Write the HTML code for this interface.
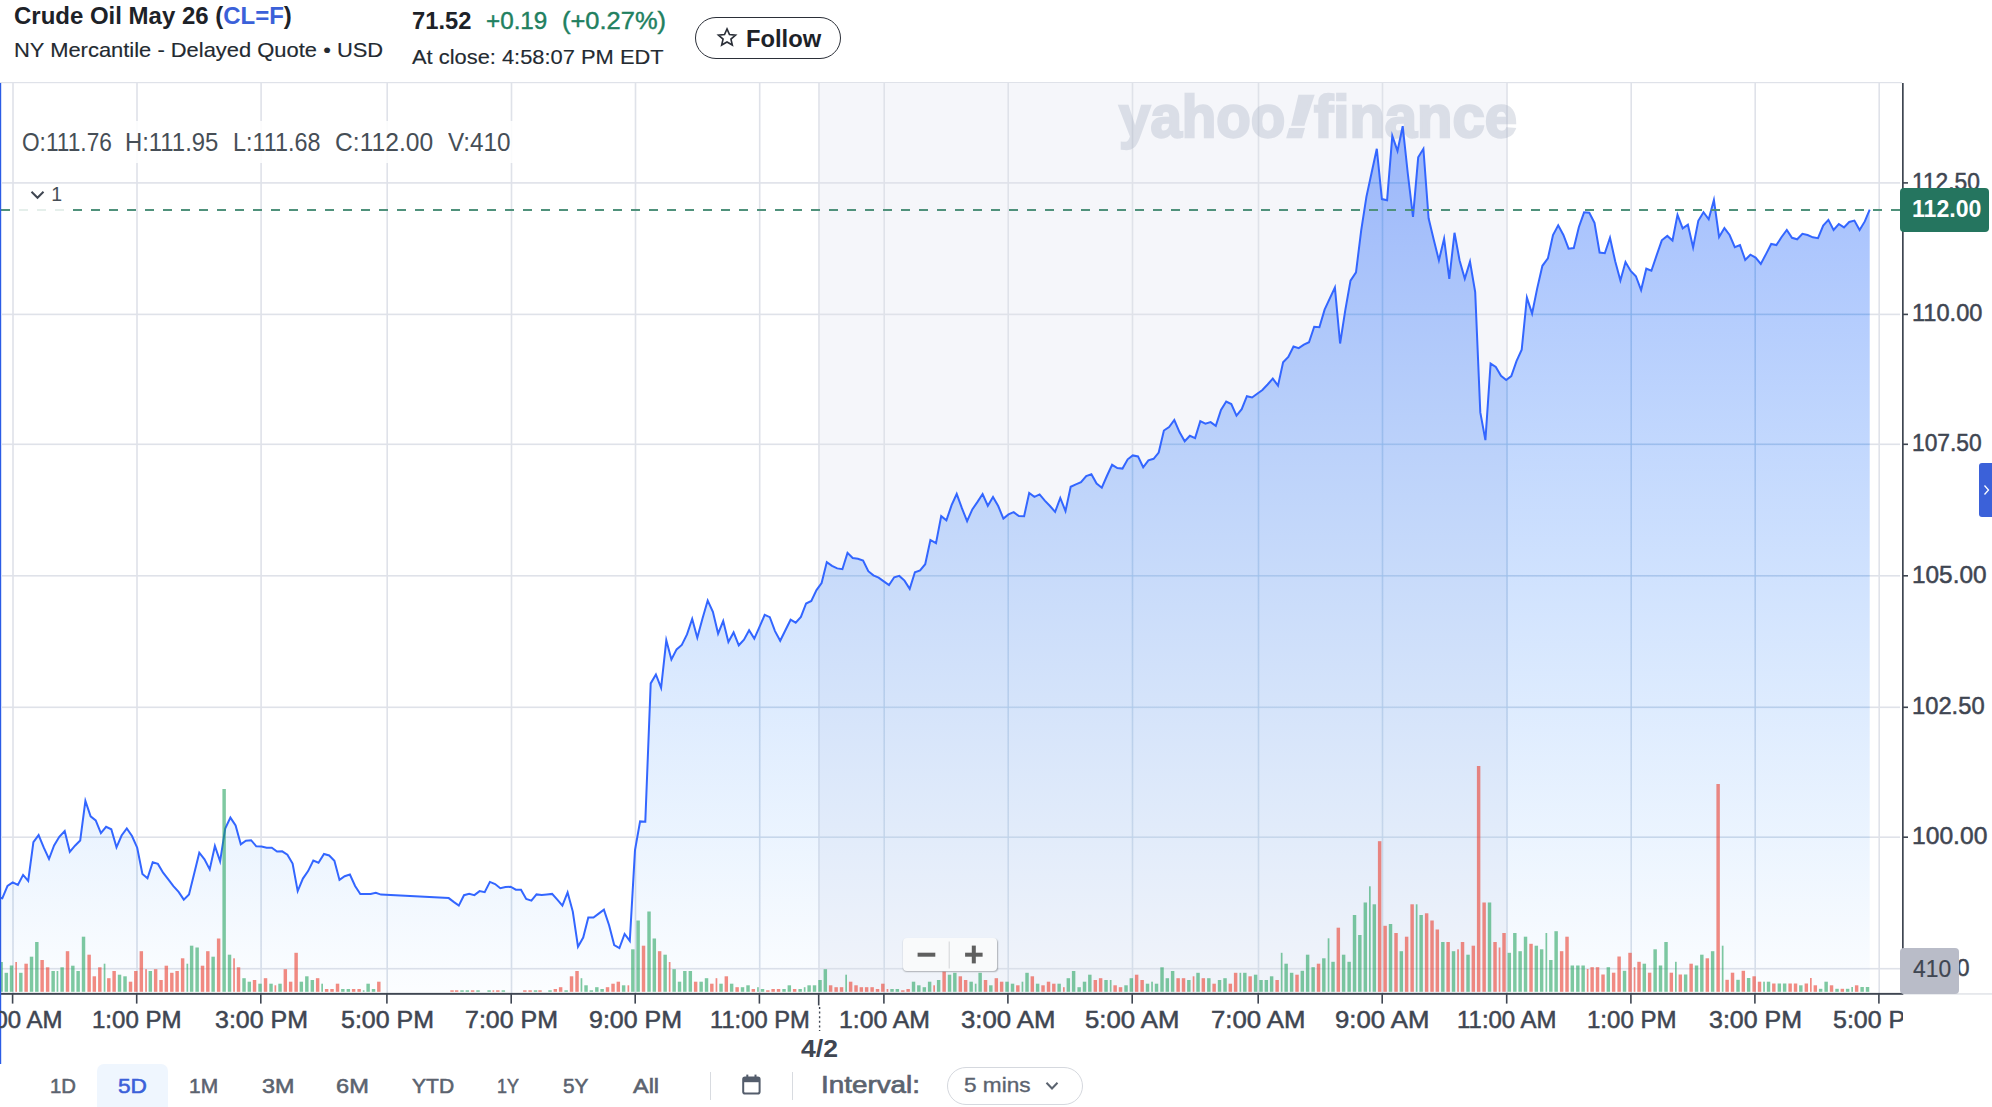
<!DOCTYPE html>
<html><head><meta charset="utf-8"><title>Crude Oil May 26 (CL=F)</title>
<style>
html,body{margin:0;padding:0;background:#fff;}
body{width:1992px;height:1107px;overflow:hidden;position:relative;font-family:"Liberation Sans",sans-serif;color:#232a31;}
.abs{position:absolute;white-space:pre;line-height:1;}
.chart{position:absolute;left:0;top:0;}
.xclip{position:absolute;left:0;top:1004px;width:1902.5px;height:36px;overflow:hidden;}
.follow{left:695px;top:17px;width:144px;height:40px;border:1.2px solid #2b2f38;border-radius:22px;}
.ohlc{left:17px;top:121px;height:42px;width:498px;background:rgba(255,255,255,0.85);}
.one{left:15px;top:184px;width:52px;height:29px;background:rgba(255,255,255,0.85);}
.cur{left:1900px;top:187.5px;width:88.8px;height:44.8px;background:#25755f;border-radius:4px;}
.vol{left:1900px;top:948px;width:59px;height:45.5px;background:#b9bcc8;border-radius:4px;}
.tab{left:1978.5px;top:462.5px;width:14px;height:54px;background:#3b61d9;border-radius:3px 0 0 3px;}
.zoom{left:903px;top:937.5px;width:94px;height:33.5px;background:#f9fafb;border-radius:4px;box-shadow:0.5px 1px 1.5px rgba(0,0,0,0.28);}
.sel{left:97px;top:1064px;width:71px;height:50px;background:#eff6fe;border-radius:7px;}
</style></head><body>
<svg class="chart" width="1992" height="1107" viewBox="0 0 1992 1107">
<rect x="0" y="82" width="1902" height="1.2" fill="#dfe2e9"/>
<rect x="819.6" y="83" width="687" height="910" fill="#f5f6fa"/>
<rect x="12.2" y="83" width="1.6" height="910" fill="#dfe2e9"/>
<rect x="136.2" y="83" width="1.6" height="910" fill="#dfe2e9"/>
<rect x="260.3" y="83" width="1.6" height="910" fill="#dfe2e9"/>
<rect x="386.4" y="83" width="1.6" height="910" fill="#dfe2e9"/>
<rect x="510.7" y="83" width="1.6" height="910" fill="#dfe2e9"/>
<rect x="634.7" y="83" width="1.6" height="910" fill="#dfe2e9"/>
<rect x="758.9" y="83" width="1.6" height="910" fill="#dfe2e9"/>
<rect x="883.4" y="83" width="1.6" height="910" fill="#dfe2e9"/>
<rect x="1007.4" y="83" width="1.6" height="910" fill="#dfe2e9"/>
<rect x="1131.7" y="83" width="1.6" height="910" fill="#dfe2e9"/>
<rect x="1257.7" y="83" width="1.6" height="910" fill="#dfe2e9"/>
<rect x="1381.7" y="83" width="1.6" height="910" fill="#dfe2e9"/>
<rect x="1506.2" y="83" width="1.6" height="910" fill="#dfe2e9"/>
<rect x="1630.4" y="83" width="1.6" height="910" fill="#dfe2e9"/>
<rect x="1754.4" y="83" width="1.6" height="910" fill="#dfe2e9"/>
<rect x="1878.4" y="83" width="1.6" height="910" fill="#dfe2e9"/>
<rect x="818.2" y="83" width="1.6" height="910" fill="#dfe2e9"/>
<rect x="2" y="182.1" width="1898" height="1.6" fill="#dfe2e9"/>
<rect x="2" y="313.6" width="1898" height="1.6" fill="#dfe2e9"/>
<rect x="2" y="443.5" width="1898" height="1.6" fill="#dfe2e9"/>
<rect x="2" y="575.0" width="1898" height="1.6" fill="#dfe2e9"/>
<rect x="2" y="706.5" width="1898" height="1.6" fill="#dfe2e9"/>
<rect x="2" y="836.4" width="1898" height="1.6" fill="#dfe2e9"/>
<rect x="2" y="967.9" width="1898" height="1.6" fill="#dfe2e9"/>
</svg>
<div class="abs" style="left:0;top:0;width:1902px;height:200px;opacity:0.31">
<div class="abs" style="left:1118.96px;top:87.76px;font-size:59px;font-weight:700;color:#a0aabe;transform:scaleX(0.9569);transform-origin:0 0;-webkit-text-stroke:2.4px #a0aabe;">yahoo</div>
<div class="abs" style="left:1284.53px;top:87.76px;font-size:59px;font-weight:700;color:#a0aabe;transform:scaleX(1.4737);transform-origin:0 0;-webkit-text-stroke:2.4px #a0aabe;font-style:italic;">!</div>
<div class="abs" style="left:1314.00px;top:87.76px;font-size:59px;font-weight:700;color:#a0aabe;transform:scaleX(0.9825);transform-origin:0 0;-webkit-text-stroke:2.4px #a0aabe;">finance</div>
</div>
<svg class="chart" width="1992" height="1107" viewBox="0 0 1992 1107">
<defs><linearGradient id="fg" gradientUnits="userSpaceOnUse" x1="0" y1="83" x2="0" y2="993"><stop offset="0" stop-color="rgb(35,95,250)" stop-opacity="0.45"/><stop offset="1" stop-color="rgb(35,140,250)" stop-opacity="0.015"/></linearGradient><linearGradient id="tg" gradientUnits="userSpaceOnUse" x1="0" y1="83" x2="0" y2="993"><stop offset="0" stop-color="rgb(40,150,235)" stop-opacity="0.17"/><stop offset="1" stop-color="rgb(40,150,235)" stop-opacity="0.02"/></linearGradient></defs>
<path d="M0.0 897.8 L2.3 898.3 L7.5 885.8 L12.7 882.3 L17.9 884.9 L23.1 874.9 L28.2 880.8 L33.4 842.2 L38.6 835.1 L43.8 847.7 L49.0 859.0 L54.1 845.5 L59.3 836.8 L64.7 831.0 L69.8 851.8 L75.0 845.7 L80.2 840.5 L85.4 800.9 L90.6 816.4 L95.7 820.4 L100.9 833.1 L106.1 826.8 L111.3 829.3 L116.5 847.3 L121.6 835.5 L126.8 828.5 L132.0 836.0 L137.2 847.7 L142.4 873.9 L147.5 878.2 L152.7 862.2 L157.9 863.9 L163.1 872.7 L168.3 879.4 L173.4 886.1 L178.6 891.9 L183.8 899.6 L189.0 894.5 L194.2 873.6 L199.3 852.7 L204.5 859.4 L209.7 869.4 L214.9 846.0 L220.1 861.4 L225.2 828.5 L230.4 817.6 L235.6 825.4 L240.8 844.3 L245.9 840.7 L251.1 840.2 L256.3 846.3 L261.5 846.5 L266.7 847.7 L271.8 847.8 L277.0 851.5 L282.2 851.3 L287.4 854.7 L292.6 863.5 L297.7 891.1 L302.9 878.6 L308.1 871.1 L313.3 860.5 L318.5 862.7 L324.0 854.0 L329.2 855.5 L334.4 860.7 L339.5 879.9 L344.7 876.2 L349.9 874.5 L355.1 886.0 L360.3 894.1 L365.4 894.1 L370.6 893.9 L375.8 892.7 L381.0 894.6 L448.7 898.1 L453.7 901.9 L458.8 905.6 L464.0 895.2 L469.2 893.9 L474.4 895.1 L479.6 891.1 L484.7 892.2 L489.9 881.9 L495.1 884.0 L500.3 888.2 L505.5 887.1 L510.6 886.7 L515.8 889.7 L521.0 889.7 L526.2 898.9 L531.4 900.6 L536.5 894.4 L541.7 894.9 L546.9 894.4 L552.1 893.9 L557.3 899.7 L562.4 905.6 L567.6 892.4 L572.8 911.6 L578.0 946.7 L583.2 937.5 L588.3 917.5 L593.5 917.5 L598.7 913.6 L603.9 909.6 L609.1 925.3 L614.2 945.0 L619.4 948.0 L624.6 934.0 L629.8 940.9 L635.0 850.1 L640.1 821.4 L645.3 821.7 L650.7 683.4 L655.9 674.5 L661.1 687.9 L666.3 640.3 L671.4 659.5 L676.6 649.4 L681.8 644.9 L687.0 634.4 L692.2 619.0 L697.3 637.7 L702.5 618.5 L707.7 600.5 L712.9 611.8 L718.1 633.6 L723.2 621.0 L728.4 641.9 L733.6 632.4 L738.8 645.3 L744.0 639.7 L749.1 630.2 L754.3 638.6 L759.5 626.9 L764.7 614.9 L769.8 617.2 L775.0 631.1 L780.2 640.8 L785.4 630.2 L790.6 619.7 L795.7 622.7 L800.9 616.9 L806.1 603.5 L811.3 601.0 L816.5 590.1 L821.6 583.1 L826.8 562.1 L832.0 565.9 L837.2 568.4 L842.4 569.2 L847.5 552.9 L852.7 558.0 L857.9 558.7 L863.1 560.6 L868.3 571.2 L873.4 575.3 L878.6 577.6 L883.8 581.4 L889.0 585.1 L894.2 577.3 L899.3 575.9 L904.5 580.6 L909.7 588.8 L914.9 572.2 L920.1 570.4 L925.2 564.2 L930.4 540.0 L936.0 543.1 L941.2 516.1 L946.4 520.3 L951.6 505.2 L956.7 494.0 L961.9 508.2 L967.1 521.1 L972.3 509.4 L977.5 501.9 L982.6 494.0 L987.8 505.7 L993.0 496.9 L998.2 506.0 L1003.4 518.6 L1008.5 514.4 L1013.7 512.2 L1018.9 516.1 L1024.1 516.2 L1029.2 493.0 L1034.4 496.9 L1039.6 494.4 L1044.8 500.7 L1050.0 506.0 L1055.1 511.9 L1060.3 498.0 L1065.5 511.1 L1070.7 486.8 L1075.9 484.3 L1081.0 482.2 L1086.2 476.0 L1091.4 474.3 L1096.6 483.5 L1101.8 487.7 L1106.9 476.0 L1112.1 464.8 L1117.3 468.0 L1122.5 468.6 L1127.7 459.3 L1132.8 455.4 L1138.0 456.4 L1143.2 467.3 L1148.4 460.4 L1153.6 458.8 L1158.7 452.6 L1163.9 430.5 L1169.1 427.0 L1174.3 420.0 L1179.5 432.1 L1184.7 441.3 L1189.9 435.8 L1195.1 438.1 L1200.3 421.2 L1205.4 423.7 L1210.6 422.1 L1215.8 425.9 L1221.0 409.9 L1226.2 401.5 L1231.3 404.0 L1236.5 415.7 L1241.7 409.2 L1246.9 396.2 L1252.1 397.5 L1257.2 393.7 L1262.4 390.0 L1267.6 384.5 L1272.8 378.6 L1278.0 385.6 L1283.1 362.3 L1288.3 356.9 L1293.5 346.5 L1298.7 348.1 L1303.9 344.7 L1309.0 342.2 L1314.2 326.8 L1319.4 327.2 L1324.6 309.6 L1329.8 298.4 L1334.9 287.6 L1340.1 343.5 L1345.3 310.1 L1350.5 280.6 L1356.0 272.4 L1361.2 230.3 L1366.4 196.9 L1371.6 172.7 L1376.8 148.8 L1381.9 199.1 L1387.1 200.2 L1392.3 135.9 L1397.5 150.9 L1402.7 126.2 L1407.8 173.5 L1413.0 216.9 L1418.2 157.3 L1423.4 148.8 L1428.6 218.3 L1433.7 239.5 L1438.9 260.4 L1444.1 238.7 L1449.3 278.8 L1454.5 232.8 L1459.6 260.4 L1464.8 278.8 L1470.0 261.7 L1475.2 292.1 L1480.3 412.4 L1485.4 440.1 L1490.6 363.6 L1495.8 366.9 L1501.0 375.8 L1506.2 380.0 L1511.3 376.1 L1516.5 361.1 L1521.7 349.7 L1526.9 297.6 L1532.1 313.5 L1537.2 288.4 L1542.4 265.8 L1547.9 258.4 L1553.0 235.0 L1558.2 225.3 L1563.4 235.0 L1568.6 248.7 L1573.8 248.0 L1578.9 227.0 L1584.1 212.3 L1589.3 212.8 L1594.5 222.8 L1599.6 252.5 L1604.8 253.2 L1610.0 237.8 L1615.2 261.2 L1620.4 280.4 L1625.5 262.0 L1630.7 270.9 L1635.9 276.2 L1641.1 290.1 L1646.3 268.7 L1651.4 270.7 L1656.6 255.4 L1661.8 240.3 L1667.3 235.9 L1672.5 240.5 L1677.5 214.8 L1682.7 228.4 L1687.9 224.7 L1693.1 247.4 L1698.3 220.8 L1703.5 212.2 L1708.7 219.3 L1713.9 200.0 L1719.1 237.0 L1724.4 228.1 L1729.6 235.0 L1734.8 247.2 L1740.0 245.1 L1745.2 259.9 L1750.4 254.7 L1755.6 257.6 L1760.8 263.9 L1766.0 254.1 L1771.2 244.0 L1776.4 245.1 L1781.6 237.0 L1786.8 229.9 L1792.0 237.8 L1797.2 239.3 L1802.4 233.8 L1807.6 235.0 L1812.8 237.3 L1818.0 238.2 L1823.2 225.5 L1828.4 219.9 L1833.6 229.9 L1838.8 224.0 L1844.0 227.4 L1849.2 222.0 L1854.4 220.6 L1859.6 230.1 L1864.8 221.4 L1869.7 209.6 L1869.7 993 L0 993 Z" fill="url(#fg)"/>
<clipPath id="fc"><path d="M0.0 897.8 L2.3 898.3 L7.5 885.8 L12.7 882.3 L17.9 884.9 L23.1 874.9 L28.2 880.8 L33.4 842.2 L38.6 835.1 L43.8 847.7 L49.0 859.0 L54.1 845.5 L59.3 836.8 L64.7 831.0 L69.8 851.8 L75.0 845.7 L80.2 840.5 L85.4 800.9 L90.6 816.4 L95.7 820.4 L100.9 833.1 L106.1 826.8 L111.3 829.3 L116.5 847.3 L121.6 835.5 L126.8 828.5 L132.0 836.0 L137.2 847.7 L142.4 873.9 L147.5 878.2 L152.7 862.2 L157.9 863.9 L163.1 872.7 L168.3 879.4 L173.4 886.1 L178.6 891.9 L183.8 899.6 L189.0 894.5 L194.2 873.6 L199.3 852.7 L204.5 859.4 L209.7 869.4 L214.9 846.0 L220.1 861.4 L225.2 828.5 L230.4 817.6 L235.6 825.4 L240.8 844.3 L245.9 840.7 L251.1 840.2 L256.3 846.3 L261.5 846.5 L266.7 847.7 L271.8 847.8 L277.0 851.5 L282.2 851.3 L287.4 854.7 L292.6 863.5 L297.7 891.1 L302.9 878.6 L308.1 871.1 L313.3 860.5 L318.5 862.7 L324.0 854.0 L329.2 855.5 L334.4 860.7 L339.5 879.9 L344.7 876.2 L349.9 874.5 L355.1 886.0 L360.3 894.1 L365.4 894.1 L370.6 893.9 L375.8 892.7 L381.0 894.6 L448.7 898.1 L453.7 901.9 L458.8 905.6 L464.0 895.2 L469.2 893.9 L474.4 895.1 L479.6 891.1 L484.7 892.2 L489.9 881.9 L495.1 884.0 L500.3 888.2 L505.5 887.1 L510.6 886.7 L515.8 889.7 L521.0 889.7 L526.2 898.9 L531.4 900.6 L536.5 894.4 L541.7 894.9 L546.9 894.4 L552.1 893.9 L557.3 899.7 L562.4 905.6 L567.6 892.4 L572.8 911.6 L578.0 946.7 L583.2 937.5 L588.3 917.5 L593.5 917.5 L598.7 913.6 L603.9 909.6 L609.1 925.3 L614.2 945.0 L619.4 948.0 L624.6 934.0 L629.8 940.9 L635.0 850.1 L640.1 821.4 L645.3 821.7 L650.7 683.4 L655.9 674.5 L661.1 687.9 L666.3 640.3 L671.4 659.5 L676.6 649.4 L681.8 644.9 L687.0 634.4 L692.2 619.0 L697.3 637.7 L702.5 618.5 L707.7 600.5 L712.9 611.8 L718.1 633.6 L723.2 621.0 L728.4 641.9 L733.6 632.4 L738.8 645.3 L744.0 639.7 L749.1 630.2 L754.3 638.6 L759.5 626.9 L764.7 614.9 L769.8 617.2 L775.0 631.1 L780.2 640.8 L785.4 630.2 L790.6 619.7 L795.7 622.7 L800.9 616.9 L806.1 603.5 L811.3 601.0 L816.5 590.1 L821.6 583.1 L826.8 562.1 L832.0 565.9 L837.2 568.4 L842.4 569.2 L847.5 552.9 L852.7 558.0 L857.9 558.7 L863.1 560.6 L868.3 571.2 L873.4 575.3 L878.6 577.6 L883.8 581.4 L889.0 585.1 L894.2 577.3 L899.3 575.9 L904.5 580.6 L909.7 588.8 L914.9 572.2 L920.1 570.4 L925.2 564.2 L930.4 540.0 L936.0 543.1 L941.2 516.1 L946.4 520.3 L951.6 505.2 L956.7 494.0 L961.9 508.2 L967.1 521.1 L972.3 509.4 L977.5 501.9 L982.6 494.0 L987.8 505.7 L993.0 496.9 L998.2 506.0 L1003.4 518.6 L1008.5 514.4 L1013.7 512.2 L1018.9 516.1 L1024.1 516.2 L1029.2 493.0 L1034.4 496.9 L1039.6 494.4 L1044.8 500.7 L1050.0 506.0 L1055.1 511.9 L1060.3 498.0 L1065.5 511.1 L1070.7 486.8 L1075.9 484.3 L1081.0 482.2 L1086.2 476.0 L1091.4 474.3 L1096.6 483.5 L1101.8 487.7 L1106.9 476.0 L1112.1 464.8 L1117.3 468.0 L1122.5 468.6 L1127.7 459.3 L1132.8 455.4 L1138.0 456.4 L1143.2 467.3 L1148.4 460.4 L1153.6 458.8 L1158.7 452.6 L1163.9 430.5 L1169.1 427.0 L1174.3 420.0 L1179.5 432.1 L1184.7 441.3 L1189.9 435.8 L1195.1 438.1 L1200.3 421.2 L1205.4 423.7 L1210.6 422.1 L1215.8 425.9 L1221.0 409.9 L1226.2 401.5 L1231.3 404.0 L1236.5 415.7 L1241.7 409.2 L1246.9 396.2 L1252.1 397.5 L1257.2 393.7 L1262.4 390.0 L1267.6 384.5 L1272.8 378.6 L1278.0 385.6 L1283.1 362.3 L1288.3 356.9 L1293.5 346.5 L1298.7 348.1 L1303.9 344.7 L1309.0 342.2 L1314.2 326.8 L1319.4 327.2 L1324.6 309.6 L1329.8 298.4 L1334.9 287.6 L1340.1 343.5 L1345.3 310.1 L1350.5 280.6 L1356.0 272.4 L1361.2 230.3 L1366.4 196.9 L1371.6 172.7 L1376.8 148.8 L1381.9 199.1 L1387.1 200.2 L1392.3 135.9 L1397.5 150.9 L1402.7 126.2 L1407.8 173.5 L1413.0 216.9 L1418.2 157.3 L1423.4 148.8 L1428.6 218.3 L1433.7 239.5 L1438.9 260.4 L1444.1 238.7 L1449.3 278.8 L1454.5 232.8 L1459.6 260.4 L1464.8 278.8 L1470.0 261.7 L1475.2 292.1 L1480.3 412.4 L1485.4 440.1 L1490.6 363.6 L1495.8 366.9 L1501.0 375.8 L1506.2 380.0 L1511.3 376.1 L1516.5 361.1 L1521.7 349.7 L1526.9 297.6 L1532.1 313.5 L1537.2 288.4 L1542.4 265.8 L1547.9 258.4 L1553.0 235.0 L1558.2 225.3 L1563.4 235.0 L1568.6 248.7 L1573.8 248.0 L1578.9 227.0 L1584.1 212.3 L1589.3 212.8 L1594.5 222.8 L1599.6 252.5 L1604.8 253.2 L1610.0 237.8 L1615.2 261.2 L1620.4 280.4 L1625.5 262.0 L1630.7 270.9 L1635.9 276.2 L1641.1 290.1 L1646.3 268.7 L1651.4 270.7 L1656.6 255.4 L1661.8 240.3 L1667.3 235.9 L1672.5 240.5 L1677.5 214.8 L1682.7 228.4 L1687.9 224.7 L1693.1 247.4 L1698.3 220.8 L1703.5 212.2 L1708.7 219.3 L1713.9 200.0 L1719.1 237.0 L1724.4 228.1 L1729.6 235.0 L1734.8 247.2 L1740.0 245.1 L1745.2 259.9 L1750.4 254.7 L1755.6 257.6 L1760.8 263.9 L1766.0 254.1 L1771.2 244.0 L1776.4 245.1 L1781.6 237.0 L1786.8 229.9 L1792.0 237.8 L1797.2 239.3 L1802.4 233.8 L1807.6 235.0 L1812.8 237.3 L1818.0 238.2 L1823.2 225.5 L1828.4 219.9 L1833.6 229.9 L1838.8 224.0 L1844.0 227.4 L1849.2 222.0 L1854.4 220.6 L1859.6 230.1 L1864.8 221.4 L1869.7 209.6 L1869.7 993 L0 993 Z"/></clipPath><g clip-path="url(#fc)" fill="url(#tg)"><rect x="12.2" y="83" width="1.6" height="910"/><rect x="136.2" y="83" width="1.6" height="910"/><rect x="260.3" y="83" width="1.6" height="910"/><rect x="386.4" y="83" width="1.6" height="910"/><rect x="510.7" y="83" width="1.6" height="910"/><rect x="634.7" y="83" width="1.6" height="910"/><rect x="758.9" y="83" width="1.6" height="910"/><rect x="883.4" y="83" width="1.6" height="910"/><rect x="1007.4" y="83" width="1.6" height="910"/><rect x="1131.7" y="83" width="1.6" height="910"/><rect x="1257.7" y="83" width="1.6" height="910"/><rect x="1381.7" y="83" width="1.6" height="910"/><rect x="1506.2" y="83" width="1.6" height="910"/><rect x="1630.4" y="83" width="1.6" height="910"/><rect x="1754.4" y="83" width="1.6" height="910"/><rect x="1878.4" y="83" width="1.6" height="910"/><rect x="2" y="182.1" width="1898" height="1.6"/><rect x="2" y="313.6" width="1898" height="1.6"/><rect x="2" y="443.5" width="1898" height="1.6"/><rect x="2" y="575.0" width="1898" height="1.6"/><rect x="2" y="706.5" width="1898" height="1.6"/><rect x="2" y="836.4" width="1898" height="1.6"/></g>
<path d="M0.0 897.8 L2.3 898.3 L7.5 885.8 L12.7 882.3 L17.9 884.9 L23.1 874.9 L28.2 880.8 L33.4 842.2 L38.6 835.1 L43.8 847.7 L49.0 859.0 L54.1 845.5 L59.3 836.8 L64.7 831.0 L69.8 851.8 L75.0 845.7 L80.2 840.5 L85.4 800.9 L90.6 816.4 L95.7 820.4 L100.9 833.1 L106.1 826.8 L111.3 829.3 L116.5 847.3 L121.6 835.5 L126.8 828.5 L132.0 836.0 L137.2 847.7 L142.4 873.9 L147.5 878.2 L152.7 862.2 L157.9 863.9 L163.1 872.7 L168.3 879.4 L173.4 886.1 L178.6 891.9 L183.8 899.6 L189.0 894.5 L194.2 873.6 L199.3 852.7 L204.5 859.4 L209.7 869.4 L214.9 846.0 L220.1 861.4 L225.2 828.5 L230.4 817.6 L235.6 825.4 L240.8 844.3 L245.9 840.7 L251.1 840.2 L256.3 846.3 L261.5 846.5 L266.7 847.7 L271.8 847.8 L277.0 851.5 L282.2 851.3 L287.4 854.7 L292.6 863.5 L297.7 891.1 L302.9 878.6 L308.1 871.1 L313.3 860.5 L318.5 862.7 L324.0 854.0 L329.2 855.5 L334.4 860.7 L339.5 879.9 L344.7 876.2 L349.9 874.5 L355.1 886.0 L360.3 894.1 L365.4 894.1 L370.6 893.9 L375.8 892.7 L381.0 894.6 L448.7 898.1 L453.7 901.9 L458.8 905.6 L464.0 895.2 L469.2 893.9 L474.4 895.1 L479.6 891.1 L484.7 892.2 L489.9 881.9 L495.1 884.0 L500.3 888.2 L505.5 887.1 L510.6 886.7 L515.8 889.7 L521.0 889.7 L526.2 898.9 L531.4 900.6 L536.5 894.4 L541.7 894.9 L546.9 894.4 L552.1 893.9 L557.3 899.7 L562.4 905.6 L567.6 892.4 L572.8 911.6 L578.0 946.7 L583.2 937.5 L588.3 917.5 L593.5 917.5 L598.7 913.6 L603.9 909.6 L609.1 925.3 L614.2 945.0 L619.4 948.0 L624.6 934.0 L629.8 940.9 L635.0 850.1 L640.1 821.4 L645.3 821.7 L650.7 683.4 L655.9 674.5 L661.1 687.9 L666.3 640.3 L671.4 659.5 L676.6 649.4 L681.8 644.9 L687.0 634.4 L692.2 619.0 L697.3 637.7 L702.5 618.5 L707.7 600.5 L712.9 611.8 L718.1 633.6 L723.2 621.0 L728.4 641.9 L733.6 632.4 L738.8 645.3 L744.0 639.7 L749.1 630.2 L754.3 638.6 L759.5 626.9 L764.7 614.9 L769.8 617.2 L775.0 631.1 L780.2 640.8 L785.4 630.2 L790.6 619.7 L795.7 622.7 L800.9 616.9 L806.1 603.5 L811.3 601.0 L816.5 590.1 L821.6 583.1 L826.8 562.1 L832.0 565.9 L837.2 568.4 L842.4 569.2 L847.5 552.9 L852.7 558.0 L857.9 558.7 L863.1 560.6 L868.3 571.2 L873.4 575.3 L878.6 577.6 L883.8 581.4 L889.0 585.1 L894.2 577.3 L899.3 575.9 L904.5 580.6 L909.7 588.8 L914.9 572.2 L920.1 570.4 L925.2 564.2 L930.4 540.0 L936.0 543.1 L941.2 516.1 L946.4 520.3 L951.6 505.2 L956.7 494.0 L961.9 508.2 L967.1 521.1 L972.3 509.4 L977.5 501.9 L982.6 494.0 L987.8 505.7 L993.0 496.9 L998.2 506.0 L1003.4 518.6 L1008.5 514.4 L1013.7 512.2 L1018.9 516.1 L1024.1 516.2 L1029.2 493.0 L1034.4 496.9 L1039.6 494.4 L1044.8 500.7 L1050.0 506.0 L1055.1 511.9 L1060.3 498.0 L1065.5 511.1 L1070.7 486.8 L1075.9 484.3 L1081.0 482.2 L1086.2 476.0 L1091.4 474.3 L1096.6 483.5 L1101.8 487.7 L1106.9 476.0 L1112.1 464.8 L1117.3 468.0 L1122.5 468.6 L1127.7 459.3 L1132.8 455.4 L1138.0 456.4 L1143.2 467.3 L1148.4 460.4 L1153.6 458.8 L1158.7 452.6 L1163.9 430.5 L1169.1 427.0 L1174.3 420.0 L1179.5 432.1 L1184.7 441.3 L1189.9 435.8 L1195.1 438.1 L1200.3 421.2 L1205.4 423.7 L1210.6 422.1 L1215.8 425.9 L1221.0 409.9 L1226.2 401.5 L1231.3 404.0 L1236.5 415.7 L1241.7 409.2 L1246.9 396.2 L1252.1 397.5 L1257.2 393.7 L1262.4 390.0 L1267.6 384.5 L1272.8 378.6 L1278.0 385.6 L1283.1 362.3 L1288.3 356.9 L1293.5 346.5 L1298.7 348.1 L1303.9 344.7 L1309.0 342.2 L1314.2 326.8 L1319.4 327.2 L1324.6 309.6 L1329.8 298.4 L1334.9 287.6 L1340.1 343.5 L1345.3 310.1 L1350.5 280.6 L1356.0 272.4 L1361.2 230.3 L1366.4 196.9 L1371.6 172.7 L1376.8 148.8 L1381.9 199.1 L1387.1 200.2 L1392.3 135.9 L1397.5 150.9 L1402.7 126.2 L1407.8 173.5 L1413.0 216.9 L1418.2 157.3 L1423.4 148.8 L1428.6 218.3 L1433.7 239.5 L1438.9 260.4 L1444.1 238.7 L1449.3 278.8 L1454.5 232.8 L1459.6 260.4 L1464.8 278.8 L1470.0 261.7 L1475.2 292.1 L1480.3 412.4 L1485.4 440.1 L1490.6 363.6 L1495.8 366.9 L1501.0 375.8 L1506.2 380.0 L1511.3 376.1 L1516.5 361.1 L1521.7 349.7 L1526.9 297.6 L1532.1 313.5 L1537.2 288.4 L1542.4 265.8 L1547.9 258.4 L1553.0 235.0 L1558.2 225.3 L1563.4 235.0 L1568.6 248.7 L1573.8 248.0 L1578.9 227.0 L1584.1 212.3 L1589.3 212.8 L1594.5 222.8 L1599.6 252.5 L1604.8 253.2 L1610.0 237.8 L1615.2 261.2 L1620.4 280.4 L1625.5 262.0 L1630.7 270.9 L1635.9 276.2 L1641.1 290.1 L1646.3 268.7 L1651.4 270.7 L1656.6 255.4 L1661.8 240.3 L1667.3 235.9 L1672.5 240.5 L1677.5 214.8 L1682.7 228.4 L1687.9 224.7 L1693.1 247.4 L1698.3 220.8 L1703.5 212.2 L1708.7 219.3 L1713.9 200.0 L1719.1 237.0 L1724.4 228.1 L1729.6 235.0 L1734.8 247.2 L1740.0 245.1 L1745.2 259.9 L1750.4 254.7 L1755.6 257.6 L1760.8 263.9 L1766.0 254.1 L1771.2 244.0 L1776.4 245.1 L1781.6 237.0 L1786.8 229.9 L1792.0 237.8 L1797.2 239.3 L1802.4 233.8 L1807.6 235.0 L1812.8 237.3 L1818.0 238.2 L1823.2 225.5 L1828.4 219.9 L1833.6 229.9 L1838.8 224.0 L1844.0 227.4 L1849.2 222.0 L1854.4 220.6 L1859.6 230.1 L1864.8 221.4 L1869.7 209.6" fill="none" stroke="#3366ff" stroke-width="2" stroke-linejoin="miter" stroke-miterlimit="6"/>
<rect x="-0.6" y="962.0" width="3.45" height="29.8" fill="rgba(30,160,90,0.57)"/>
<rect x="4.6" y="972.8" width="3.45" height="19.0" fill="rgba(30,160,90,0.57)"/>
<rect x="9.8" y="965.5" width="3.45" height="26.3" fill="rgba(30,160,90,0.57)"/>
<rect x="15.3" y="962.0" width="1.7" height="29.8" fill="rgba(234,67,53,0.62)"/>
<rect x="19.1" y="972.8" width="3.45" height="19.0" fill="rgba(30,160,90,0.57)"/>
<rect x="24.4" y="963.7" width="3.45" height="28.1" fill="rgba(234,67,53,0.62)"/>
<rect x="29.8" y="956.7" width="3.45" height="35.1" fill="rgba(30,160,90,0.57)"/>
<rect x="35.1" y="942.0" width="3.45" height="49.8" fill="rgba(30,160,90,0.57)"/>
<rect x="40.4" y="960.0" width="3.45" height="31.8" fill="rgba(234,67,53,0.62)"/>
<rect x="45.9" y="967.3" width="3.45" height="24.5" fill="rgba(234,67,53,0.62)"/>
<rect x="51.4" y="971.0" width="3.45" height="20.8" fill="rgba(30,160,90,0.57)"/>
<rect x="56.6" y="971.0" width="1.7" height="20.8" fill="rgba(30,160,90,0.57)"/>
<rect x="60.4" y="967.3" width="3.45" height="24.5" fill="rgba(30,160,90,0.57)"/>
<rect x="65.8" y="951.2" width="3.45" height="40.6" fill="rgba(234,67,53,0.62)"/>
<rect x="71.1" y="965.7" width="3.45" height="26.1" fill="rgba(30,160,90,0.57)"/>
<rect x="76.4" y="971.0" width="3.45" height="20.8" fill="rgba(30,160,90,0.57)"/>
<rect x="81.8" y="936.7" width="3.45" height="55.1" fill="rgba(30,160,90,0.57)"/>
<rect x="87.4" y="954.7" width="3.45" height="37.1" fill="rgba(234,67,53,0.62)"/>
<rect x="92.6" y="976.3" width="3.45" height="15.5" fill="rgba(234,67,53,0.62)"/>
<rect x="98.1" y="967.3" width="3.45" height="24.5" fill="rgba(234,67,53,0.62)"/>
<rect x="103.7" y="963.7" width="1.7" height="28.1" fill="rgba(30,160,90,0.57)"/>
<rect x="107.1" y="978.2" width="3.45" height="13.6" fill="rgba(234,67,53,0.62)"/>
<rect x="112.4" y="971.0" width="3.45" height="20.8" fill="rgba(234,67,53,0.62)"/>
<rect x="117.8" y="974.7" width="3.45" height="17.1" fill="rgba(30,160,90,0.57)"/>
<rect x="123.3" y="976.3" width="3.45" height="15.5" fill="rgba(30,160,90,0.57)"/>
<rect x="128.8" y="981.7" width="3.45" height="10.1" fill="rgba(234,67,53,0.62)"/>
<rect x="134.1" y="971.0" width="3.45" height="20.8" fill="rgba(234,67,53,0.62)"/>
<rect x="139.6" y="951.2" width="3.45" height="40.6" fill="rgba(234,67,53,0.62)"/>
<rect x="145.2" y="969.2" width="1.7" height="22.6" fill="rgba(234,67,53,0.62)"/>
<rect x="148.6" y="971.0" width="3.45" height="20.8" fill="rgba(30,160,90,0.57)"/>
<rect x="153.9" y="969.2" width="3.45" height="22.6" fill="rgba(234,67,53,0.62)"/>
<rect x="159.3" y="980.0" width="3.45" height="11.8" fill="rgba(234,67,53,0.62)"/>
<rect x="164.6" y="965.7" width="3.45" height="26.1" fill="rgba(234,67,53,0.62)"/>
<rect x="170.1" y="972.8" width="3.45" height="19.0" fill="rgba(234,67,53,0.62)"/>
<rect x="175.4" y="971.0" width="3.45" height="20.8" fill="rgba(234,67,53,0.62)"/>
<rect x="180.9" y="958.3" width="3.45" height="33.5" fill="rgba(234,67,53,0.62)"/>
<rect x="186.5" y="963.7" width="1.7" height="28.1" fill="rgba(30,160,90,0.57)"/>
<rect x="189.9" y="945.7" width="3.45" height="46.1" fill="rgba(30,160,90,0.57)"/>
<rect x="195.4" y="947.5" width="3.45" height="44.3" fill="rgba(30,160,90,0.57)"/>
<rect x="200.8" y="965.7" width="3.45" height="26.1" fill="rgba(234,67,53,0.62)"/>
<rect x="206.1" y="951.2" width="3.45" height="40.6" fill="rgba(234,67,53,0.62)"/>
<rect x="211.4" y="956.7" width="3.45" height="35.1" fill="rgba(30,160,90,0.57)"/>
<rect x="216.9" y="938.5" width="3.45" height="53.3" fill="rgba(234,67,53,0.62)"/>
<rect x="222.4" y="789.0" width="3.45" height="202.8" fill="rgba(30,160,90,0.57)"/>
<rect x="227.8" y="954.7" width="3.45" height="37.1" fill="rgba(30,160,90,0.57)"/>
<rect x="233.2" y="958.3" width="1.7" height="33.5" fill="rgba(234,67,53,0.62)"/>
<rect x="236.8" y="967.3" width="3.45" height="24.5" fill="rgba(234,67,53,0.62)"/>
<rect x="242.3" y="978.2" width="3.45" height="13.6" fill="rgba(30,160,90,0.57)"/>
<rect x="247.6" y="981.7" width="3.45" height="10.1" fill="rgba(30,160,90,0.57)"/>
<rect x="252.8" y="980.0" width="3.45" height="11.8" fill="rgba(234,67,53,0.62)"/>
<rect x="258.3" y="983.7" width="3.45" height="8.1" fill="rgba(30,160,90,0.57)"/>
<rect x="263.8" y="978.2" width="3.45" height="13.6" fill="rgba(234,67,53,0.62)"/>
<rect x="269.3" y="983.7" width="3.45" height="8.1" fill="rgba(30,160,90,0.57)"/>
<rect x="274.5" y="985.3" width="1.7" height="6.5" fill="rgba(234,67,53,0.62)"/>
<rect x="278.3" y="983.7" width="3.45" height="8.1" fill="rgba(30,160,90,0.57)"/>
<rect x="283.6" y="969.2" width="3.45" height="22.6" fill="rgba(234,67,53,0.62)"/>
<rect x="288.9" y="981.7" width="3.45" height="10.1" fill="rgba(234,67,53,0.62)"/>
<rect x="294.4" y="952.8" width="3.45" height="39.0" fill="rgba(234,67,53,0.62)"/>
<rect x="299.6" y="981.7" width="3.45" height="10.1" fill="rgba(30,160,90,0.57)"/>
<rect x="305.1" y="976.3" width="3.45" height="15.5" fill="rgba(30,160,90,0.57)"/>
<rect x="310.6" y="980.0" width="3.45" height="11.8" fill="rgba(30,160,90,0.57)"/>
<rect x="315.9" y="978.2" width="3.45" height="13.6" fill="rgba(234,67,53,0.62)"/>
<rect x="321.3" y="983.7" width="1.7" height="8.1" fill="rgba(30,160,90,0.57)"/>
<rect x="324.9" y="989.0" width="3.45" height="2.8" fill="rgba(234,67,53,0.62)"/>
<rect x="330.3" y="989.0" width="3.45" height="2.8" fill="rgba(234,67,53,0.62)"/>
<rect x="335.8" y="983.7" width="3.45" height="8.1" fill="rgba(234,67,53,0.62)"/>
<rect x="341.1" y="989.0" width="3.45" height="2.8" fill="rgba(30,160,90,0.57)"/>
<rect x="346.6" y="989.0" width="3.45" height="2.8" fill="rgba(30,160,90,0.57)"/>
<rect x="351.9" y="989.0" width="3.45" height="2.8" fill="rgba(234,67,53,0.62)"/>
<rect x="357.4" y="989.0" width="3.45" height="2.8" fill="rgba(234,67,53,0.62)"/>
<rect x="362.8" y="990.3" width="1.7" height="1.5" fill="rgba(30,160,90,0.57)"/>
<rect x="366.4" y="983.7" width="3.45" height="8.1" fill="rgba(30,160,90,0.57)"/>
<rect x="371.8" y="989.0" width="3.45" height="2.8" fill="rgba(30,160,90,0.57)"/>
<rect x="377.1" y="981.7" width="3.45" height="10.1" fill="rgba(234,67,53,0.62)"/>
<rect x="450.3" y="990.3" width="3.45" height="1.5" fill="rgba(234,67,53,0.62)"/>
<rect x="454.9" y="990.3" width="3.45" height="1.5" fill="rgba(234,67,53,0.62)"/>
<rect x="460.3" y="990.3" width="3.45" height="1.5" fill="rgba(30,160,90,0.57)"/>
<rect x="465.6" y="990.3" width="3.45" height="1.5" fill="rgba(30,160,90,0.57)"/>
<rect x="470.9" y="990.3" width="3.45" height="1.5" fill="rgba(234,67,53,0.62)"/>
<rect x="476.3" y="990.3" width="3.45" height="1.5" fill="rgba(30,160,90,0.57)"/>
<rect x="487.4" y="990.3" width="3.45" height="1.5" fill="rgba(30,160,90,0.57)"/>
<rect x="492.5" y="990.3" width="1.7" height="1.5" fill="rgba(234,67,53,0.62)"/>
<rect x="496.1" y="990.3" width="3.45" height="1.5" fill="rgba(234,67,53,0.62)"/>
<rect x="501.6" y="990.3" width="3.45" height="1.5" fill="rgba(30,160,90,0.57)"/>
<rect x="523.1" y="990.3" width="3.45" height="1.5" fill="rgba(234,67,53,0.62)"/>
<rect x="528.4" y="990.3" width="3.45" height="1.5" fill="rgba(234,67,53,0.62)"/>
<rect x="533.8" y="990.3" width="3.45" height="1.5" fill="rgba(30,160,90,0.57)"/>
<rect x="538.3" y="990.3" width="3.45" height="1.5" fill="rgba(234,67,53,0.62)"/>
<rect x="548.3" y="990.3" width="3.45" height="1.5" fill="rgba(30,160,90,0.57)"/>
<rect x="553.6" y="989.0" width="3.45" height="2.8" fill="rgba(234,67,53,0.62)"/>
<rect x="558.9" y="987.2" width="3.45" height="4.6" fill="rgba(234,67,53,0.62)"/>
<rect x="564.4" y="990.3" width="3.45" height="1.5" fill="rgba(30,160,90,0.57)"/>
<rect x="569.8" y="976.3" width="3.45" height="15.5" fill="rgba(234,67,53,0.62)"/>
<rect x="575.3" y="971.0" width="3.45" height="20.8" fill="rgba(234,67,53,0.62)"/>
<rect x="580.6" y="978.2" width="1.7" height="13.6" fill="rgba(30,160,90,0.57)"/>
<rect x="584.3" y="985.3" width="3.45" height="6.5" fill="rgba(30,160,90,0.57)"/>
<rect x="589.6" y="990.3" width="3.45" height="1.5" fill="rgba(30,160,90,0.57)"/>
<rect x="595.1" y="987.2" width="3.45" height="4.6" fill="rgba(30,160,90,0.57)"/>
<rect x="600.4" y="989.0" width="3.45" height="2.8" fill="rgba(30,160,90,0.57)"/>
<rect x="605.8" y="987.2" width="3.45" height="4.6" fill="rgba(234,67,53,0.62)"/>
<rect x="611.3" y="983.7" width="3.45" height="8.1" fill="rgba(234,67,53,0.62)"/>
<rect x="616.6" y="981.7" width="3.45" height="10.1" fill="rgba(234,67,53,0.62)"/>
<rect x="621.9" y="985.3" width="3.45" height="6.5" fill="rgba(30,160,90,0.57)"/>
<rect x="627.5" y="985.3" width="1.7" height="6.5" fill="rgba(234,67,53,0.62)"/>
<rect x="631.1" y="949.3" width="3.45" height="42.5" fill="rgba(30,160,90,0.57)"/>
<rect x="636.4" y="920.5" width="3.45" height="71.3" fill="rgba(30,160,90,0.57)"/>
<rect x="641.8" y="945.7" width="3.45" height="46.1" fill="rgba(234,67,53,0.62)"/>
<rect x="647.3" y="911.5" width="3.45" height="80.3" fill="rgba(30,160,90,0.57)"/>
<rect x="652.6" y="938.5" width="3.45" height="53.3" fill="rgba(30,160,90,0.57)"/>
<rect x="657.9" y="951.2" width="3.45" height="40.6" fill="rgba(234,67,53,0.62)"/>
<rect x="663.4" y="954.7" width="3.45" height="37.1" fill="rgba(30,160,90,0.57)"/>
<rect x="668.8" y="962.0" width="1.7" height="29.8" fill="rgba(234,67,53,0.62)"/>
<rect x="672.4" y="969.2" width="3.45" height="22.6" fill="rgba(30,160,90,0.57)"/>
<rect x="677.8" y="981.7" width="3.45" height="10.1" fill="rgba(30,160,90,0.57)"/>
<rect x="683.1" y="971.0" width="3.45" height="20.8" fill="rgba(30,160,90,0.57)"/>
<rect x="688.6" y="971.0" width="3.45" height="20.8" fill="rgba(30,160,90,0.57)"/>
<rect x="693.9" y="981.7" width="3.45" height="10.1" fill="rgba(234,67,53,0.62)"/>
<rect x="699.4" y="981.7" width="3.45" height="10.1" fill="rgba(30,160,90,0.57)"/>
<rect x="704.8" y="978.2" width="3.45" height="13.6" fill="rgba(30,160,90,0.57)"/>
<rect x="710.1" y="983.7" width="3.45" height="8.1" fill="rgba(234,67,53,0.62)"/>
<rect x="715.6" y="978.2" width="1.7" height="13.6" fill="rgba(234,67,53,0.62)"/>
<rect x="719.3" y="983.7" width="3.45" height="8.1" fill="rgba(30,160,90,0.57)"/>
<rect x="724.6" y="976.3" width="3.45" height="15.5" fill="rgba(234,67,53,0.62)"/>
<rect x="729.9" y="983.7" width="3.45" height="8.1" fill="rgba(30,160,90,0.57)"/>
<rect x="735.4" y="987.2" width="3.45" height="4.6" fill="rgba(234,67,53,0.62)"/>
<rect x="740.8" y="987.2" width="3.45" height="4.6" fill="rgba(30,160,90,0.57)"/>
<rect x="746.3" y="985.3" width="3.45" height="6.5" fill="rgba(30,160,90,0.57)"/>
<rect x="751.6" y="989.0" width="3.45" height="2.8" fill="rgba(234,67,53,0.62)"/>
<rect x="757.1" y="987.2" width="1.7" height="4.6" fill="rgba(30,160,90,0.57)"/>
<rect x="760.8" y="989.0" width="3.45" height="2.8" fill="rgba(30,160,90,0.57)"/>
<rect x="766.1" y="990.3" width="3.45" height="1.5" fill="rgba(234,67,53,0.62)"/>
<rect x="771.4" y="989.0" width="3.45" height="2.8" fill="rgba(234,67,53,0.62)"/>
<rect x="776.8" y="989.0" width="3.45" height="2.8" fill="rgba(234,67,53,0.62)"/>
<rect x="782.3" y="989.0" width="3.45" height="2.8" fill="rgba(30,160,90,0.57)"/>
<rect x="787.6" y="985.3" width="3.45" height="6.5" fill="rgba(30,160,90,0.57)"/>
<rect x="792.9" y="989.0" width="3.45" height="2.8" fill="rgba(234,67,53,0.62)"/>
<rect x="798.4" y="989.0" width="3.45" height="2.8" fill="rgba(30,160,90,0.57)"/>
<rect x="803.8" y="987.2" width="1.7" height="4.6" fill="rgba(30,160,90,0.57)"/>
<rect x="807.4" y="985.3" width="3.45" height="6.5" fill="rgba(30,160,90,0.57)"/>
<rect x="812.8" y="985.3" width="3.45" height="6.5" fill="rgba(30,160,90,0.57)"/>
<rect x="818.3" y="980.0" width="3.45" height="11.8" fill="rgba(30,160,90,0.57)"/>
<rect x="823.6" y="969.2" width="3.45" height="22.6" fill="rgba(30,160,90,0.57)"/>
<rect x="828.9" y="985.3" width="3.45" height="6.5" fill="rgba(234,67,53,0.62)"/>
<rect x="834.4" y="987.2" width="3.45" height="4.6" fill="rgba(234,67,53,0.62)"/>
<rect x="839.8" y="987.2" width="3.45" height="4.6" fill="rgba(234,67,53,0.62)"/>
<rect x="845.3" y="974.7" width="1.7" height="17.1" fill="rgba(30,160,90,0.57)"/>
<rect x="848.9" y="981.7" width="3.45" height="10.1" fill="rgba(234,67,53,0.62)"/>
<rect x="854.3" y="985.3" width="3.45" height="6.5" fill="rgba(234,67,53,0.62)"/>
<rect x="859.6" y="987.2" width="3.45" height="4.6" fill="rgba(234,67,53,0.62)"/>
<rect x="864.9" y="987.2" width="3.45" height="4.6" fill="rgba(234,67,53,0.62)"/>
<rect x="870.4" y="987.2" width="3.45" height="4.6" fill="rgba(234,67,53,0.62)"/>
<rect x="875.8" y="989.0" width="3.45" height="2.8" fill="rgba(234,67,53,0.62)"/>
<rect x="881.1" y="983.7" width="3.45" height="8.1" fill="rgba(234,67,53,0.62)"/>
<rect x="886.6" y="989.0" width="1.7" height="2.8" fill="rgba(234,67,53,0.62)"/>
<rect x="890.3" y="989.0" width="3.45" height="2.8" fill="rgba(30,160,90,0.57)"/>
<rect x="895.6" y="989.0" width="3.45" height="2.8" fill="rgba(30,160,90,0.57)"/>
<rect x="901.1" y="990.3" width="3.45" height="1.5" fill="rgba(234,67,53,0.62)"/>
<rect x="906.4" y="989.0" width="3.45" height="2.8" fill="rgba(234,67,53,0.62)"/>
<rect x="911.8" y="981.7" width="3.45" height="10.1" fill="rgba(30,160,90,0.57)"/>
<rect x="917.1" y="985.3" width="3.45" height="6.5" fill="rgba(30,160,90,0.57)"/>
<rect x="922.6" y="987.2" width="3.45" height="4.6" fill="rgba(30,160,90,0.57)"/>
<rect x="927.9" y="981.7" width="3.45" height="10.1" fill="rgba(30,160,90,0.57)"/>
<rect x="933.3" y="985.3" width="1.7" height="6.5" fill="rgba(234,67,53,0.62)"/>
<rect x="936.9" y="980.0" width="3.45" height="11.8" fill="rgba(30,160,90,0.57)"/>
<rect x="942.4" y="971.7" width="3.45" height="20.1" fill="rgba(234,67,53,0.62)"/>
<rect x="947.8" y="974.7" width="3.45" height="17.1" fill="rgba(30,160,90,0.57)"/>
<rect x="953.1" y="972.8" width="3.45" height="19.0" fill="rgba(30,160,90,0.57)"/>
<rect x="958.6" y="976.3" width="3.45" height="15.5" fill="rgba(234,67,53,0.62)"/>
<rect x="963.9" y="980.0" width="3.45" height="11.8" fill="rgba(234,67,53,0.62)"/>
<rect x="969.4" y="981.7" width="3.45" height="10.1" fill="rgba(30,160,90,0.57)"/>
<rect x="974.8" y="983.7" width="1.7" height="8.1" fill="rgba(30,160,90,0.57)"/>
<rect x="978.4" y="972.8" width="3.45" height="19.0" fill="rgba(30,160,90,0.57)"/>
<rect x="983.8" y="980.0" width="3.45" height="11.8" fill="rgba(234,67,53,0.62)"/>
<rect x="989.1" y="985.3" width="3.45" height="6.5" fill="rgba(30,160,90,0.57)"/>
<rect x="994.6" y="978.2" width="3.45" height="13.6" fill="rgba(234,67,53,0.62)"/>
<rect x="999.9" y="981.7" width="3.45" height="10.1" fill="rgba(234,67,53,0.62)"/>
<rect x="1005.3" y="981.7" width="3.45" height="10.1" fill="rgba(30,160,90,0.57)"/>
<rect x="1010.8" y="983.7" width="3.45" height="8.1" fill="rgba(30,160,90,0.57)"/>
<rect x="1016.1" y="985.3" width="3.45" height="6.5" fill="rgba(234,67,53,0.62)"/>
<rect x="1021.6" y="981.7" width="1.7" height="10.1" fill="rgba(30,160,90,0.57)"/>
<rect x="1025.3" y="972.8" width="3.45" height="19.0" fill="rgba(30,160,90,0.57)"/>
<rect x="1030.6" y="976.3" width="3.45" height="15.5" fill="rgba(234,67,53,0.62)"/>
<rect x="1035.9" y="983.7" width="3.45" height="8.1" fill="rgba(30,160,90,0.57)"/>
<rect x="1041.3" y="985.3" width="3.45" height="6.5" fill="rgba(234,67,53,0.62)"/>
<rect x="1046.8" y="981.7" width="3.45" height="10.1" fill="rgba(234,67,53,0.62)"/>
<rect x="1052.1" y="983.7" width="3.45" height="8.1" fill="rgba(234,67,53,0.62)"/>
<rect x="1057.4" y="983.7" width="3.45" height="8.1" fill="rgba(30,160,90,0.57)"/>
<rect x="1063.0" y="987.2" width="1.7" height="4.6" fill="rgba(234,67,53,0.62)"/>
<rect x="1066.6" y="978.2" width="3.45" height="13.6" fill="rgba(30,160,90,0.57)"/>
<rect x="1071.9" y="971.0" width="3.45" height="20.8" fill="rgba(30,160,90,0.57)"/>
<rect x="1077.4" y="987.2" width="3.45" height="4.6" fill="rgba(30,160,90,0.57)"/>
<rect x="1082.8" y="981.7" width="3.45" height="10.1" fill="rgba(30,160,90,0.57)"/>
<rect x="1088.1" y="974.7" width="3.45" height="17.1" fill="rgba(30,160,90,0.57)"/>
<rect x="1093.6" y="980.0" width="3.45" height="11.8" fill="rgba(234,67,53,0.62)"/>
<rect x="1098.9" y="978.2" width="3.45" height="13.6" fill="rgba(234,67,53,0.62)"/>
<rect x="1104.3" y="980.0" width="3.45" height="11.8" fill="rgba(30,160,90,0.57)"/>
<rect x="1109.8" y="980.0" width="1.7" height="11.8" fill="rgba(30,160,90,0.57)"/>
<rect x="1113.4" y="985.3" width="3.45" height="6.5" fill="rgba(234,67,53,0.62)"/>
<rect x="1118.8" y="987.2" width="3.45" height="4.6" fill="rgba(234,67,53,0.62)"/>
<rect x="1124.3" y="985.3" width="3.45" height="6.5" fill="rgba(30,160,90,0.57)"/>
<rect x="1129.6" y="978.2" width="3.45" height="13.6" fill="rgba(30,160,90,0.57)"/>
<rect x="1134.9" y="974.7" width="3.45" height="17.1" fill="rgba(234,67,53,0.62)"/>
<rect x="1140.4" y="980.0" width="3.45" height="11.8" fill="rgba(234,67,53,0.62)"/>
<rect x="1145.8" y="983.7" width="3.45" height="8.1" fill="rgba(30,160,90,0.57)"/>
<rect x="1151.2" y="981.7" width="1.7" height="10.1" fill="rgba(30,160,90,0.57)"/>
<rect x="1154.8" y="983.7" width="3.45" height="8.1" fill="rgba(30,160,90,0.57)"/>
<rect x="1160.3" y="967.3" width="3.45" height="24.5" fill="rgba(30,160,90,0.57)"/>
<rect x="1165.6" y="978.2" width="3.45" height="13.6" fill="rgba(30,160,90,0.57)"/>
<rect x="1170.9" y="971.0" width="3.45" height="20.8" fill="rgba(30,160,90,0.57)"/>
<rect x="1176.4" y="978.2" width="3.45" height="13.6" fill="rgba(234,67,53,0.62)"/>
<rect x="1181.8" y="978.2" width="3.45" height="13.6" fill="rgba(234,67,53,0.62)"/>
<rect x="1187.1" y="980.0" width="3.45" height="11.8" fill="rgba(30,160,90,0.57)"/>
<rect x="1192.7" y="976.3" width="1.7" height="15.5" fill="rgba(234,67,53,0.62)"/>
<rect x="1196.3" y="972.8" width="3.45" height="19.0" fill="rgba(30,160,90,0.57)"/>
<rect x="1201.6" y="978.2" width="3.45" height="13.6" fill="rgba(234,67,53,0.62)"/>
<rect x="1207.1" y="978.2" width="3.45" height="13.6" fill="rgba(30,160,90,0.57)"/>
<rect x="1212.4" y="983.7" width="3.45" height="8.1" fill="rgba(234,67,53,0.62)"/>
<rect x="1217.8" y="980.0" width="3.45" height="11.8" fill="rgba(30,160,90,0.57)"/>
<rect x="1223.3" y="978.2" width="3.45" height="13.6" fill="rgba(30,160,90,0.57)"/>
<rect x="1228.6" y="983.7" width="3.45" height="8.1" fill="rgba(234,67,53,0.62)"/>
<rect x="1233.9" y="972.8" width="3.45" height="19.0" fill="rgba(234,67,53,0.62)"/>
<rect x="1239.5" y="972.8" width="1.7" height="19.0" fill="rgba(30,160,90,0.57)"/>
<rect x="1243.1" y="972.8" width="3.45" height="19.0" fill="rgba(30,160,90,0.57)"/>
<rect x="1248.4" y="976.3" width="3.45" height="15.5" fill="rgba(234,67,53,0.62)"/>
<rect x="1253.9" y="974.7" width="3.45" height="17.1" fill="rgba(30,160,90,0.57)"/>
<rect x="1259.3" y="980.0" width="3.45" height="11.8" fill="rgba(30,160,90,0.57)"/>
<rect x="1264.6" y="980.0" width="3.45" height="11.8" fill="rgba(30,160,90,0.57)"/>
<rect x="1269.9" y="976.3" width="3.45" height="15.5" fill="rgba(30,160,90,0.57)"/>
<rect x="1275.4" y="980.0" width="3.45" height="11.8" fill="rgba(234,67,53,0.62)"/>
<rect x="1280.8" y="952.8" width="1.7" height="39.0" fill="rgba(30,160,90,0.57)"/>
<rect x="1284.4" y="963.7" width="3.45" height="28.1" fill="rgba(30,160,90,0.57)"/>
<rect x="1289.9" y="972.8" width="3.45" height="19.0" fill="rgba(30,160,90,0.57)"/>
<rect x="1295.3" y="974.7" width="3.45" height="17.1" fill="rgba(234,67,53,0.62)"/>
<rect x="1300.6" y="970.8" width="3.45" height="21.0" fill="rgba(30,160,90,0.57)"/>
<rect x="1305.9" y="954.7" width="3.45" height="37.1" fill="rgba(30,160,90,0.57)"/>
<rect x="1311.4" y="967.2" width="3.45" height="24.6" fill="rgba(30,160,90,0.57)"/>
<rect x="1316.8" y="963.7" width="3.45" height="28.1" fill="rgba(234,67,53,0.62)"/>
<rect x="1322.1" y="958.3" width="3.45" height="33.5" fill="rgba(30,160,90,0.57)"/>
<rect x="1327.7" y="938.3" width="1.7" height="53.5" fill="rgba(30,160,90,0.57)"/>
<rect x="1331.3" y="961.8" width="3.45" height="30.0" fill="rgba(30,160,90,0.57)"/>
<rect x="1336.6" y="927.7" width="3.45" height="64.1" fill="rgba(234,67,53,0.62)"/>
<rect x="1341.9" y="954.7" width="3.45" height="37.1" fill="rgba(30,160,90,0.57)"/>
<rect x="1347.4" y="961.8" width="3.45" height="30.0" fill="rgba(30,160,90,0.57)"/>
<rect x="1352.8" y="915.0" width="3.45" height="76.8" fill="rgba(30,160,90,0.57)"/>
<rect x="1358.1" y="935.0" width="3.45" height="56.8" fill="rgba(30,160,90,0.57)"/>
<rect x="1363.6" y="902.5" width="3.45" height="89.3" fill="rgba(30,160,90,0.57)"/>
<rect x="1369.0" y="886.3" width="1.7" height="105.5" fill="rgba(30,160,90,0.57)"/>
<rect x="1372.6" y="904.3" width="3.45" height="87.5" fill="rgba(30,160,90,0.57)"/>
<rect x="1377.9" y="841.2" width="3.45" height="150.6" fill="rgba(234,67,53,0.62)"/>
<rect x="1383.4" y="925.8" width="3.45" height="66.0" fill="rgba(234,67,53,0.62)"/>
<rect x="1388.8" y="924.0" width="3.45" height="67.8" fill="rgba(30,160,90,0.57)"/>
<rect x="1394.3" y="933.0" width="3.45" height="58.8" fill="rgba(234,67,53,0.62)"/>
<rect x="1399.6" y="951.2" width="3.45" height="40.6" fill="rgba(30,160,90,0.57)"/>
<rect x="1404.9" y="936.7" width="3.45" height="55.1" fill="rgba(234,67,53,0.62)"/>
<rect x="1410.4" y="904.3" width="3.45" height="87.5" fill="rgba(234,67,53,0.62)"/>
<rect x="1415.8" y="904.3" width="1.7" height="87.5" fill="rgba(30,160,90,0.57)"/>
<rect x="1419.4" y="915.0" width="3.45" height="76.8" fill="rgba(30,160,90,0.57)"/>
<rect x="1424.9" y="913.3" width="3.45" height="78.5" fill="rgba(234,67,53,0.62)"/>
<rect x="1430.3" y="920.5" width="3.45" height="71.3" fill="rgba(234,67,53,0.62)"/>
<rect x="1435.6" y="929.5" width="3.45" height="62.3" fill="rgba(234,67,53,0.62)"/>
<rect x="1441.1" y="942.0" width="3.45" height="49.8" fill="rgba(30,160,90,0.57)"/>
<rect x="1446.4" y="942.0" width="3.45" height="49.8" fill="rgba(234,67,53,0.62)"/>
<rect x="1451.8" y="951.2" width="3.45" height="40.6" fill="rgba(30,160,90,0.57)"/>
<rect x="1457.2" y="949.3" width="1.7" height="42.5" fill="rgba(234,67,53,0.62)"/>
<rect x="1460.8" y="942.0" width="3.45" height="49.8" fill="rgba(234,67,53,0.62)"/>
<rect x="1466.3" y="954.7" width="3.45" height="37.1" fill="rgba(30,160,90,0.57)"/>
<rect x="1471.6" y="945.7" width="3.45" height="46.1" fill="rgba(234,67,53,0.62)"/>
<rect x="1476.9" y="766.0" width="3.45" height="225.8" fill="rgba(234,67,53,0.62)"/>
<rect x="1482.4" y="902.5" width="3.45" height="89.3" fill="rgba(234,67,53,0.62)"/>
<rect x="1487.8" y="902.5" width="3.45" height="89.3" fill="rgba(30,160,90,0.57)"/>
<rect x="1493.3" y="942.0" width="3.45" height="49.8" fill="rgba(234,67,53,0.62)"/>
<rect x="1498.7" y="947.5" width="1.7" height="44.3" fill="rgba(234,67,53,0.62)"/>
<rect x="1502.3" y="933.0" width="3.45" height="58.8" fill="rgba(234,67,53,0.62)"/>
<rect x="1507.6" y="952.8" width="3.45" height="39.0" fill="rgba(30,160,90,0.57)"/>
<rect x="1513.1" y="933.0" width="3.45" height="58.8" fill="rgba(30,160,90,0.57)"/>
<rect x="1518.4" y="951.2" width="3.45" height="40.6" fill="rgba(30,160,90,0.57)"/>
<rect x="1523.8" y="936.7" width="3.45" height="55.1" fill="rgba(30,160,90,0.57)"/>
<rect x="1529.3" y="943.8" width="3.45" height="48.0" fill="rgba(234,67,53,0.62)"/>
<rect x="1534.6" y="945.7" width="3.45" height="46.1" fill="rgba(30,160,90,0.57)"/>
<rect x="1539.9" y="949.3" width="3.45" height="42.5" fill="rgba(30,160,90,0.57)"/>
<rect x="1545.5" y="933.0" width="1.7" height="58.8" fill="rgba(30,160,90,0.57)"/>
<rect x="1549.1" y="960.0" width="3.45" height="31.8" fill="rgba(30,160,90,0.57)"/>
<rect x="1554.4" y="931.2" width="3.45" height="60.6" fill="rgba(30,160,90,0.57)"/>
<rect x="1559.9" y="951.2" width="3.45" height="40.6" fill="rgba(234,67,53,0.62)"/>
<rect x="1565.3" y="936.7" width="3.45" height="55.1" fill="rgba(234,67,53,0.62)"/>
<rect x="1570.6" y="965.5" width="3.45" height="26.3" fill="rgba(30,160,90,0.57)"/>
<rect x="1576.1" y="965.5" width="3.45" height="26.3" fill="rgba(30,160,90,0.57)"/>
<rect x="1581.4" y="965.5" width="3.45" height="26.3" fill="rgba(30,160,90,0.57)"/>
<rect x="1586.8" y="969.0" width="1.7" height="22.8" fill="rgba(234,67,53,0.62)"/>
<rect x="1590.4" y="967.2" width="3.45" height="24.6" fill="rgba(234,67,53,0.62)"/>
<rect x="1595.8" y="967.2" width="3.45" height="24.6" fill="rgba(234,67,53,0.62)"/>
<rect x="1601.3" y="974.5" width="3.45" height="17.3" fill="rgba(234,67,53,0.62)"/>
<rect x="1606.6" y="967.2" width="3.45" height="24.6" fill="rgba(30,160,90,0.57)"/>
<rect x="1611.9" y="972.7" width="3.45" height="19.1" fill="rgba(234,67,53,0.62)"/>
<rect x="1617.4" y="956.5" width="3.45" height="35.3" fill="rgba(234,67,53,0.62)"/>
<rect x="1622.8" y="970.8" width="3.45" height="21.0" fill="rgba(30,160,90,0.57)"/>
<rect x="1628.3" y="952.8" width="3.45" height="39.0" fill="rgba(234,67,53,0.62)"/>
<rect x="1633.7" y="967.2" width="1.7" height="24.6" fill="rgba(234,67,53,0.62)"/>
<rect x="1637.3" y="961.8" width="3.45" height="30.0" fill="rgba(234,67,53,0.62)"/>
<rect x="1642.6" y="963.7" width="3.45" height="28.1" fill="rgba(30,160,90,0.57)"/>
<rect x="1647.9" y="972.7" width="3.45" height="19.1" fill="rgba(234,67,53,0.62)"/>
<rect x="1653.4" y="949.3" width="3.45" height="42.5" fill="rgba(30,160,90,0.57)"/>
<rect x="1658.8" y="965.5" width="3.45" height="26.3" fill="rgba(30,160,90,0.57)"/>
<rect x="1664.3" y="942.0" width="3.45" height="49.8" fill="rgba(30,160,90,0.57)"/>
<rect x="1669.6" y="972.7" width="3.45" height="19.1" fill="rgba(234,67,53,0.62)"/>
<rect x="1675.0" y="961.8" width="1.7" height="30.0" fill="rgba(30,160,90,0.57)"/>
<rect x="1678.6" y="974.5" width="3.45" height="17.3" fill="rgba(234,67,53,0.62)"/>
<rect x="1683.9" y="974.5" width="3.45" height="17.3" fill="rgba(30,160,90,0.57)"/>
<rect x="1689.4" y="963.7" width="3.45" height="28.1" fill="rgba(234,67,53,0.62)"/>
<rect x="1694.8" y="965.5" width="3.45" height="26.3" fill="rgba(30,160,90,0.57)"/>
<rect x="1700.1" y="954.7" width="3.45" height="37.1" fill="rgba(30,160,90,0.57)"/>
<rect x="1705.6" y="958.3" width="3.45" height="33.5" fill="rgba(234,67,53,0.62)"/>
<rect x="1710.9" y="951.2" width="3.45" height="40.6" fill="rgba(30,160,90,0.57)"/>
<rect x="1716.4" y="784.0" width="3.45" height="207.8" fill="rgba(234,67,53,0.62)"/>
<rect x="1721.8" y="945.7" width="1.7" height="46.1" fill="rgba(30,160,90,0.57)"/>
<rect x="1725.4" y="979.8" width="3.45" height="12.0" fill="rgba(234,67,53,0.62)"/>
<rect x="1730.8" y="972.7" width="3.45" height="19.1" fill="rgba(234,67,53,0.62)"/>
<rect x="1736.3" y="979.8" width="3.45" height="12.0" fill="rgba(30,160,90,0.57)"/>
<rect x="1741.6" y="970.8" width="3.45" height="21.0" fill="rgba(234,67,53,0.62)"/>
<rect x="1746.9" y="978.0" width="3.45" height="13.8" fill="rgba(30,160,90,0.57)"/>
<rect x="1752.4" y="976.3" width="3.45" height="15.5" fill="rgba(234,67,53,0.62)"/>
<rect x="1757.8" y="981.7" width="3.45" height="10.1" fill="rgba(234,67,53,0.62)"/>
<rect x="1763.2" y="981.7" width="1.7" height="10.1" fill="rgba(30,160,90,0.57)"/>
<rect x="1766.8" y="981.7" width="3.45" height="10.1" fill="rgba(30,160,90,0.57)"/>
<rect x="1772.1" y="983.5" width="3.45" height="8.3" fill="rgba(234,67,53,0.62)"/>
<rect x="1777.6" y="983.5" width="3.45" height="8.3" fill="rgba(30,160,90,0.57)"/>
<rect x="1782.9" y="983.5" width="3.45" height="8.3" fill="rgba(30,160,90,0.57)"/>
<rect x="1788.4" y="983.5" width="3.45" height="8.3" fill="rgba(234,67,53,0.62)"/>
<rect x="1793.8" y="983.5" width="3.45" height="8.3" fill="rgba(234,67,53,0.62)"/>
<rect x="1799.1" y="985.3" width="3.45" height="6.5" fill="rgba(30,160,90,0.57)"/>
<rect x="1804.6" y="983.5" width="3.45" height="8.3" fill="rgba(234,67,53,0.62)"/>
<rect x="1810.0" y="978.0" width="1.7" height="13.8" fill="rgba(234,67,53,0.62)"/>
<rect x="1813.6" y="985.3" width="3.45" height="6.5" fill="rgba(234,67,53,0.62)"/>
<rect x="1818.9" y="988.8" width="3.45" height="3.0" fill="rgba(30,160,90,0.57)"/>
<rect x="1824.4" y="981.7" width="3.45" height="10.1" fill="rgba(30,160,90,0.57)"/>
<rect x="1829.8" y="985.3" width="3.45" height="6.5" fill="rgba(234,67,53,0.62)"/>
<rect x="1835.3" y="988.8" width="3.45" height="3.0" fill="rgba(30,160,90,0.57)"/>
<rect x="1840.6" y="988.8" width="3.45" height="3.0" fill="rgba(234,67,53,0.62)"/>
<rect x="1845.9" y="988.8" width="3.45" height="3.0" fill="rgba(30,160,90,0.57)"/>
<rect x="1851.3" y="987.0" width="1.7" height="4.8" fill="rgba(30,160,90,0.57)"/>
<rect x="1854.9" y="985.3" width="3.45" height="6.5" fill="rgba(234,67,53,0.62)"/>
<rect x="1860.4" y="987.0" width="3.45" height="4.8" fill="rgba(30,160,90,0.57)"/>
<rect x="1865.8" y="987.0" width="3.45" height="4.8" fill="rgba(30,160,90,0.57)"/>
<path d="M1 210 H1901" stroke="#4f917b" stroke-width="2" stroke-dasharray="9 9" fill="none"/>
<rect x="0" y="992.9" width="1903.6" height="1.9" fill="#3f4652"/>
<rect x="1903" y="993.3" width="89" height="1.3" fill="#dcdfe4"/>
<rect x="1902" y="83" width="1.7" height="911" fill="#3f4652"/>
<rect x="11.8" y="993" width="1.6" height="10.6" fill="#3f4652"/>
<rect x="135.9" y="993" width="1.6" height="10.6" fill="#3f4652"/>
<rect x="260.0" y="993" width="1.6" height="10.6" fill="#3f4652"/>
<rect x="386.1" y="993" width="1.6" height="10.6" fill="#3f4652"/>
<rect x="510.4" y="993" width="1.6" height="10.6" fill="#3f4652"/>
<rect x="634.4" y="993" width="1.6" height="10.6" fill="#3f4652"/>
<rect x="758.6" y="993" width="1.6" height="10.6" fill="#3f4652"/>
<rect x="883.1" y="993" width="1.6" height="10.6" fill="#3f4652"/>
<rect x="1007.1" y="993" width="1.6" height="10.6" fill="#3f4652"/>
<rect x="1131.4" y="993" width="1.6" height="10.6" fill="#3f4652"/>
<rect x="1257.4" y="993" width="1.6" height="10.6" fill="#3f4652"/>
<rect x="1381.4" y="993" width="1.6" height="10.6" fill="#3f4652"/>
<rect x="1505.9" y="993" width="1.6" height="10.6" fill="#3f4652"/>
<rect x="1630.1" y="993" width="1.6" height="10.6" fill="#3f4652"/>
<rect x="1754.1" y="993" width="1.6" height="10.6" fill="#3f4652"/>
<rect x="1878.1" y="993" width="1.6" height="10.6" fill="#3f4652"/>
<rect x="817.9" y="993" width="1.6" height="12.4" fill="#3f4652"/>
<rect x="1903" y="182.1" width="5" height="1.6" fill="#3f4652"/>
<rect x="1903" y="313.6" width="5" height="1.6" fill="#3f4652"/>
<rect x="1903" y="443.5" width="5" height="1.6" fill="#3f4652"/>
<rect x="1903" y="575.0" width="5" height="1.6" fill="#3f4652"/>
<rect x="1903" y="706.5" width="5" height="1.6" fill="#3f4652"/>
<rect x="1903" y="836.4" width="5" height="1.6" fill="#3f4652"/>
<rect x="1903" y="967.9" width="5" height="1.6" fill="#3f4652"/>
<path d="M819.6 1007 V1031" stroke="#3f4652" stroke-width="1.4" stroke-dasharray="2 2.6" fill="none"/>
<rect x="0" y="83" width="1.2" height="981" fill="#2b5ce6"/>
</svg>
<div class="abs follow"></div>
<svg class="abs" style="left:716.1px;top:26.4px" width="22" height="22" viewBox="0 0 24 24"><path d="M12 3.2l2.700 6.100 6.600.6-5 4.400 1.500 6.500L12 17.400 6.200 20.800l1.500-6.500-5-4.400 6.600-.6z" fill="none" stroke="#2b2f38" stroke-width="1.800" stroke-linejoin="miter"/></svg>
<div class="abs ohlc"></div>
<div class="abs one"><svg style="position:absolute;left:15px;top:6px" width="15" height="11" viewBox="0 0 15 11"><path d="M1.500 1.800l6 6 6-6" fill="none" stroke="#3f4652" stroke-width="2"/></svg></div>
<div class="abs sel"></div>
<div class="abs" style="left:14.47px;top:5.16px;font-size:23.2px;font-weight:700;color:#1d2228;transform:scaleX(1.0341);transform-origin:0 0;">Crude Oil May 26 (<b style="color:#3b61d9">CL=F</b>)</div>
<div class="abs" style="left:13.84px;top:39.72px;font-size:20.3px;font-weight:400;color:#232a31;transform:scaleX(1.0811);transform-origin:0 0;-webkit-text-stroke:0.15px #232a31;">NY Mercantile - Delayed Quote &bull; USD</div>
<div class="abs" style="left:412.38px;top:9.88px;font-size:23.3px;font-weight:700;color:#1d2228;transform:scaleX(1.0179);transform-origin:0 0;">71.52</div>
<div class="abs" style="left:486.26px;top:9.88px;font-size:23.3px;font-weight:400;color:#21805f;transform:scaleX(1.0404);transform-origin:0 0;-webkit-text-stroke:0.4px #21805f;">+0.19</div>
<div class="abs" style="left:561.71px;top:9.88px;font-size:23.3px;font-weight:400;color:#21805f;transform:scaleX(1.0925);transform-origin:0 0;-webkit-text-stroke:0.4px #21805f;">(+0.27%)</div>
<div class="abs" style="left:412.30px;top:46.83px;font-size:20.4px;font-weight:400;color:#232a31;transform:scaleX(1.0726);transform-origin:0 0;-webkit-text-stroke:0.15px #232a31;">At close: 4:58:07 PM EDT</div>
<div class="abs" style="left:745.76px;top:27.88px;font-size:23.3px;font-weight:700;color:#1d2228;transform:scaleX(1.0181);transform-origin:0 0;">Follow</div>
<div class="abs" style="left:1912.22px;top:170.78px;font-size:23.3px;font-weight:400;color:#3f4652;transform:scaleX(0.9765);transform-origin:0 0;-webkit-text-stroke:0.5px #3f4652;">112.50</div>
<div class="abs" style="left:1912.19px;top:302.28px;font-size:23.3px;font-weight:400;color:#3f4652;transform:scaleX(1.0118);transform-origin:0 0;-webkit-text-stroke:0.5px #3f4652;">110.00</div>
<div class="abs" style="left:1912.22px;top:432.18px;font-size:23.3px;font-weight:400;color:#3f4652;transform:scaleX(0.9786);transform-origin:0 0;-webkit-text-stroke:0.5px #3f4652;">107.50</div>
<div class="abs" style="left:1912.15px;top:563.68px;font-size:23.3px;font-weight:400;color:#3f4652;transform:scaleX(1.0457);transform-origin:0 0;-webkit-text-stroke:0.5px #3f4652;">105.00</div>
<div class="abs" style="left:1912.18px;top:695.18px;font-size:23.3px;font-weight:400;color:#3f4652;transform:scaleX(1.0186);transform-origin:0 0;-webkit-text-stroke:0.5px #3f4652;">102.50</div>
<div class="abs" style="left:1912.14px;top:825.08px;font-size:23.3px;font-weight:400;color:#3f4652;transform:scaleX(1.0571);transform-origin:0 0;-webkit-text-stroke:0.5px #3f4652;">100.00</div>
<div class="abs" style="left:1912.21px;top:956.58px;font-size:23.3px;font-weight:400;color:#3f4652;transform:scaleX(0.9860);transform-origin:0 0;-webkit-text-stroke:0.5px #3f4652;">97.50</div>
<div class="abs" style="left:800.90px;top:1037.98px;font-size:23.3px;font-weight:700;color:#3f4652;transform:scaleX(1.1406);transform-origin:0 0;">4/2</div>
<div class="abs" style="left:820.51px;top:1074.28px;font-size:23.3px;font-weight:400;color:#5b636f;transform:scaleX(1.1949);transform-origin:0 0;-webkit-text-stroke:0.65px #5b636f;">Interval:</div>
<div class="abs" style="left:964.39px;top:1074.73px;font-size:20.4px;font-weight:400;color:#5b636f;transform:scaleX(1.1085);transform-origin:0 0;-webkit-text-stroke:0.35px #5b636f;">5 mins</div>
<div class="xclip">
<div class="abs" style="left:-36.73px;top:4.98px;font-size:23.3px;font-weight:400;color:#3f4652;transform:scaleX(1.0287);transform-origin:0 0;-webkit-text-stroke:0.5px #3f4652;">11:00 AM</div>
<div class="abs" style="left:92.37px;top:4.98px;font-size:23.3px;font-weight:400;color:#3f4652;transform:scaleX(1.0321);transform-origin:0 0;-webkit-text-stroke:0.5px #3f4652;">1:00 PM</div>
<div class="abs" style="left:214.73px;top:4.98px;font-size:23.3px;font-weight:400;color:#3f4652;transform:scaleX(1.0714);transform-origin:0 0;-webkit-text-stroke:0.5px #3f4652;">3:00 PM</div>
<div class="abs" style="left:340.83px;top:4.98px;font-size:23.3px;font-weight:400;color:#3f4652;transform:scaleX(1.0714);transform-origin:0 0;-webkit-text-stroke:0.5px #3f4652;">5:00 PM</div>
<div class="abs" style="left:465.13px;top:4.98px;font-size:23.3px;font-weight:400;color:#3f4652;transform:scaleX(1.0714);transform-origin:0 0;-webkit-text-stroke:0.5px #3f4652;">7:00 PM</div>
<div class="abs" style="left:589.13px;top:4.98px;font-size:23.3px;font-weight:400;color:#3f4652;transform:scaleX(1.0714);transform-origin:0 0;-webkit-text-stroke:0.5px #3f4652;">9:00 PM</div>
<div class="abs" style="left:710.03px;top:4.98px;font-size:23.3px;font-weight:400;color:#3f4652;transform:scaleX(1.0179);transform-origin:0 0;-webkit-text-stroke:0.5px #3f4652;">11:00 PM</div>
<div class="abs" style="left:838.63px;top:4.98px;font-size:23.3px;font-weight:400;color:#3f4652;transform:scaleX(1.0651);transform-origin:0 0;-webkit-text-stroke:0.5px #3f4652;">1:00 AM</div>
<div class="abs" style="left:960.95px;top:4.98px;font-size:23.3px;font-weight:400;color:#3f4652;transform:scaleX(1.1048);transform-origin:0 0;-webkit-text-stroke:0.5px #3f4652;">3:00 AM</div>
<div class="abs" style="left:1085.25px;top:4.98px;font-size:23.3px;font-weight:400;color:#3f4652;transform:scaleX(1.1048);transform-origin:0 0;-webkit-text-stroke:0.5px #3f4652;">5:00 AM</div>
<div class="abs" style="left:1211.25px;top:4.98px;font-size:23.3px;font-weight:400;color:#3f4652;transform:scaleX(1.1048);transform-origin:0 0;-webkit-text-stroke:0.5px #3f4652;">7:00 AM</div>
<div class="abs" style="left:1335.25px;top:4.98px;font-size:23.3px;font-weight:400;color:#3f4652;transform:scaleX(1.1048);transform-origin:0 0;-webkit-text-stroke:0.5px #3f4652;">9:00 AM</div>
<div class="abs" style="left:1457.32px;top:4.98px;font-size:23.3px;font-weight:400;color:#3f4652;transform:scaleX(1.0287);transform-origin:0 0;-webkit-text-stroke:0.5px #3f4652;">11:00 AM</div>
<div class="abs" style="left:1586.52px;top:4.98px;font-size:23.3px;font-weight:400;color:#3f4652;transform:scaleX(1.0321);transform-origin:0 0;-webkit-text-stroke:0.5px #3f4652;">1:00 PM</div>
<div class="abs" style="left:1708.83px;top:4.98px;font-size:23.3px;font-weight:400;color:#3f4652;transform:scaleX(1.0714);transform-origin:0 0;-webkit-text-stroke:0.5px #3f4652;">3:00 PM</div>
<div class="abs" style="left:1832.83px;top:4.98px;font-size:23.3px;font-weight:400;color:#3f4652;transform:scaleX(1.0714);transform-origin:0 0;-webkit-text-stroke:0.5px #3f4652;">5:00 PM</div>
</div>
<div class="abs cur"></div>
<div class="abs vol"></div>
<div class="abs tab"><svg style="position:absolute;left:4px;top:21px" width="7" height="12" viewBox="0 0 7 12"><path d="M1.500 1.500l4 4.500-4 4.500" fill="none" stroke="#fff" stroke-width="1.300"/></svg></div>
<div class="abs zoom"><svg width="94" height="34" viewBox="0 0 94 34"><rect x="45.700" y="3.500" width="1" height="27" fill="#d3d5d8"/><rect x="14.600" y="14.700" width="17.700" height="4" fill="#5f5f5f"/><rect x="62.100" y="14.700" width="17.500" height="4" fill="#5f5f5f"/><rect x="68.800" y="7.600" width="4" height="17.800" fill="#5f5f5f"/></svg></div>
<div class="abs" style="left:1912.21px;top:198.08px;font-size:23.3px;font-weight:700;color:#ffffff;transform:scaleX(0.9912);transform-origin:0 0;">112.00</div>
<div class="abs" style="left:1913.00px;top:958.43px;font-size:23.0px;font-weight:400;color:#3f4652;transform:scaleX(0.9921);transform-origin:0 0;-webkit-text-stroke:0.2px #3f4652;">410</div>
<div class="abs" style="left:21.89px;top:130.34px;font-size:25.0px;font-weight:400;color:#464e56;transform:scaleX(0.9062);transform-origin:0 0;">O:111.76</div>
<div class="abs" style="left:125.29px;top:130.34px;font-size:25.0px;font-weight:400;color:#464e56;transform:scaleX(0.9547);transform-origin:0 0;">H:111.95</div>
<div class="abs" style="left:232.83px;top:130.34px;font-size:25.0px;font-weight:400;color:#464e56;transform:scaleX(0.9341);transform-origin:0 0;">L:111.68</div>
<div class="abs" style="left:334.61px;top:130.34px;font-size:25.0px;font-weight:400;color:#464e56;transform:scaleX(0.9857);transform-origin:0 0;">C:112.00</div>
<div class="abs" style="left:448.00px;top:130.34px;font-size:25.0px;font-weight:400;color:#464e56;transform:scaleX(0.9719);transform-origin:0 0;">V:410</div>
<div class="abs" style="left:51.30px;top:185.19px;font-size:19.5px;font-weight:400;color:#464e56;transform:scaleX(1.0000);transform-origin:0 0;">1</div>
<div class="abs" style="left:49.55px;top:1075.93px;font-size:20.4px;font-weight:400;color:#5b636f;transform:scaleX(0.9958);transform-origin:0 0;-webkit-text-stroke:0.55px #5b636f;">1D</div>
<div class="abs" style="left:118.34px;top:1075.93px;font-size:20.4px;font-weight:400;color:#3b61d9;transform:scaleX(1.1125);transform-origin:0 0;-webkit-text-stroke:0.55px #3b61d9;">5D</div>
<div class="abs" style="left:188.82px;top:1075.93px;font-size:20.4px;font-weight:400;color:#5b636f;transform:scaleX(1.0269);transform-origin:0 0;-webkit-text-stroke:0.55px #5b636f;">1M</div>
<div class="abs" style="left:261.55px;top:1075.93px;font-size:20.4px;font-weight:400;color:#5b636f;transform:scaleX(1.1444);transform-origin:0 0;-webkit-text-stroke:0.55px #5b636f;">3M</div>
<div class="abs" style="left:335.69px;top:1075.93px;font-size:20.4px;font-weight:400;color:#5b636f;transform:scaleX(1.1577);transform-origin:0 0;-webkit-text-stroke:0.55px #5b636f;">6M</div>
<div class="abs" style="left:411.85px;top:1075.93px;font-size:20.4px;font-weight:400;color:#5b636f;transform:scaleX(1.0325);transform-origin:0 0;-webkit-text-stroke:0.55px #5b636f;">YTD</div>
<div class="abs" style="left:496.77px;top:1075.93px;font-size:20.4px;font-weight:400;color:#5b636f;transform:scaleX(0.8792);transform-origin:0 0;-webkit-text-stroke:0.55px #5b636f;">1Y</div>
<div class="abs" style="left:562.93px;top:1075.93px;font-size:20.4px;font-weight:400;color:#5b636f;transform:scaleX(1.0208);transform-origin:0 0;-webkit-text-stroke:0.55px #5b636f;">5Y</div>
<div class="abs" style="left:632.85px;top:1075.93px;font-size:20.4px;font-weight:400;color:#5b636f;transform:scaleX(1.1500);transform-origin:0 0;-webkit-text-stroke:0.55px #5b636f;">All</div>
<div class="abs" style="left:710px;top:1072px;width:1.2px;height:28px;background:#d8dbe0"></div>
<div class="abs" style="left:792px;top:1072px;width:1.2px;height:28px;background:#d8dbe0"></div>
<svg class="abs" style="left:741.5px;top:1073.5px" width="19" height="21" viewBox="0 0 19 21"><rect x="1.200" y="3.600" width="16.400" height="16" rx="1.800" fill="none" stroke="#545d6c" stroke-width="2"/><rect x="1.200" y="3.600" width="16.400" height="4.600" fill="#545d6c"/><rect x="4.300" y="0.600" width="2" height="4" fill="#545d6c"/><rect x="12.500" y="0.600" width="2" height="4" fill="#545d6c"/></svg>
<div class="abs" style="left:946.5px;top:1067px;width:134px;height:36px;border:1.2px solid #d5d8de;border-radius:20px;"></div>
<svg class="abs" style="left:1044.5px;top:1080.5px" width="14" height="11" viewBox="0 0 14 11"><path d="M1.500 1.800l5.500 5.700 5.500-5.700" fill="none" stroke="#5b636f" stroke-width="2"/></svg>
</body></html>
